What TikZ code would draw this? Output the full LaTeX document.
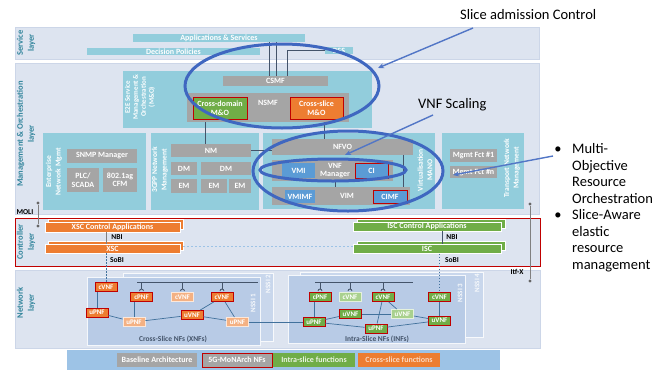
\documentclass[tikz,border=0pt]{standalone}
\usepackage{fontspec}
\setmainfont{Carlito}
\usetikzlibrary{arrows.meta}

\definecolor{laybg}{HTML}{DDE4F0}
\definecolor{laybd}{HTML}{CCD6E8}
\definecolor{tealbox}{HTML}{92CDDC}
\definecolor{tealtxt}{HTML}{31849B}
\definecolor{greybox}{HTML}{A5A5A5}
\definecolor{bluebox}{HTML}{5B9BD5}
\definecolor{orangebox}{HTML}{ED7D31}
\definecolor{lorange}{HTML}{F4B183}
\definecolor{greenbox}{HTML}{70AD47}
\definecolor{lgreen}{HTML}{A9D18E}
\definecolor{redline}{HTML}{C00000}
\definecolor{nssia}{HTML}{B8CBE6}
\definecolor{nssib}{HTML}{C9D7EC}
\definecolor{legendbg}{HTML}{9DC3E6}
\definecolor{ovalblue}{HTML}{3F67C0}
\definecolor{nftxt}{HTML}{44546A}
\definecolor{linkc}{HTML}{41719C}

\tikzset{
  sz/.style 2 args={minimum width=#1pt, minimum height=#2pt},
  laybox/.style={fill=laybg, draw=laybd, line width=0.8pt, inner sep=0pt},
  laytxt/.style={font=\fontsize{8.5}{11}\selectfont\bfseries, text=tealtxt, rotate=90, align=center, inner sep=0pt},
  lbl/.style={font=\fontsize{8}{8.5}\selectfont\bfseries, text=white, align=center, inner sep=0pt},
  tealb/.style={fill=tealbox, inner sep=0pt},
  rotlbl/.style={lbl, font=\fontsize{7.5}{9.5}\selectfont\bfseries, rotate=90},
  greyb/.style={lbl, fill=greybox},
  blueb/.style={lbl, fill=bluebox},
  monb/.style={draw=redline, line width=0.9pt},
  wire/.style={draw=nftxt, line width=0.6pt},
  gwire/.style={draw=gray, line width=0.6pt},
  jdot/.style={circle, fill=gray!80!black, inner sep=0pt, minimum size=3.2pt},
  iftxt/.style={font=\fontsize{7.5}{8}\selectfont\bfseries, text=black, inner sep=0pt},
  xscbar/.style={lbl, fill=orangebox, draw=white, line width=0.6pt},
  iscbar/.style={lbl, fill=greenbox, draw=white, line width=0.6pt},
  dotwire/.style={draw=linkc, line width=0.7pt, dash pattern=on 1.5pt off 1.5pt},
  dashwire/.style={draw=bluebox!60, line width=0.8pt, dash pattern=on 2pt off 2pt},
  nssiback/.style={fill=nssib, draw=white!85!nssib, line width=0.6pt, inner sep=0pt},
  nssifront/.style={fill=nssia, draw=white!85!nssia, line width=0.6pt, inner sep=0pt},
  nssitxt/.style={font=\fontsize{7}{7.5}\selectfont\bfseries, text=white!90!nssia, rotate=90, inner sep=0pt},
  nftitle/.style={font=\fontsize{7.5}{8}\selectfont\bfseries, text=nftxt, inner sep=0pt},
  nf/.style={font=\fontsize{7}{7.5}\selectfont\bfseries, text=white, sz={22}{9}, inner sep=0pt, line width=0.9pt},
  xnf/.style={nf, fill=orangebox, draw=redline},
  xnfl/.style={nf, fill=lorange, draw=white!70!lorange},
  inf/.style={nf, fill=greenbox, draw=redline},
  infl/.style={nf, fill=lgreen, draw=white!70!lgreen},
  link/.style={draw=linkc, line width=0.7pt},
  bus/.style={draw=nftxt, line width=0.8pt},
  oval/.style={draw=ovalblue, line width=3pt},
  notearrow/.style={draw=ovalblue!90!white, line width=1.4pt, -{Stealth[length=6pt, width=5pt]}},
  note/.style={font=\fontsize{14.5}{16.6}\selectfont, text=black, inner sep=0pt}
}

\begin{document}
\begin{tikzpicture}[x=1pt, y=-1pt]
\useasboundingbox (0,0) rectangle (665,373);

% layers
\node[laybox, sz={524}{32}] (srvl) at (277,43) {};
\node[laytxt] (srvlt) at (26,43) {Service\\layer};
\node[laybox, sz={524}{151}] (mol) at (277,138.5) {};
\node[laytxt] (molt) at (26,134) {Management \& Orchestration\\layer};
\node[laybox, draw=redline, line width=1pt, sz={525}{48}] (ctl) at (277.5,242) {};
\node[laytxt] (ctlt) at (26,242) {Controller\\layer};
\node[laybox, sz={525}{78}] (netl) at (277.5,309) {};
\node[laytxt] (netlt) at (26,303) {Network\\layer};

% service layer
\node[tealb, lbl, sz={172}{8}] (apps) at (219,38) {Applications \& Services};
\node[tealb, lbl, sz={173}{7}] (decpol) at (173.5,51.5) {Decision Policies};
\node[tealb, lbl, sz={28}{7}] (bss) at (339,50.5) {BSS};

% E2E M&O
\node[tealb, sz={249}{57}] (e2e) at (247.5,99.5) {};
\node[rotlbl, font=\fontsize{7}{8}\selectfont\bfseries] (e2et) at (140,97) {E2E Service\\Management \&\\Orchestration\\(M\&O)};
\node[greyb, sz={105}{10}] (csmf) at (275.5,81) {CSMF};
\node[greyb, sz={162}{29}] (nsmf) at (268,107.5) {};
\node[lbl] (nsmft) at (268,103) {NSMF};
\node[lbl, monb, fill=greenbox, sz={54}{22}] (xdom) at (220,108) {Cross-domain\\M\&O};
\node[lbl, monb, fill=orangebox, sz={53}{22}] (xslc) at (316.5,108) {Cross-slice\\M\&O};
\draw[wire] (apps.south -| 269,0) -- (csmf.north -| 269,0);
\draw[wire] (apps.south -| 276,0) -- (csmf.north -| 276,0);
\draw[wire] (csmf.north -| 287,0) |- (bss.west);

% enterprise
\node[tealb, sz={103}{77}] (ent) at (94.5,171.5) {};
\node[rotlbl] (entt) at (54,172) {Enterprise\\Network Mgmt};
\node[greyb, sz={70}{14}] (snmp) at (102,156) {SNMP Manager};
\node[greyb, sz={32}{24}] (plc) at (83,180) {PLC/\\SCADA};
\node[greyb, sz={34}{24}] (cfm) at (120,180) {802.1ag\\CFM};

% 3GPP
\node[tealb, sz={108}{77}] (tgpp) at (205,171.5) {};
\node[rotlbl] (tgppt) at (160,170) {3GPP Network\\Management};
\node[greyb, sz={80}{13}] (nm) at (211,150.5) {NM};
\node[greyb, sz={26}{13}] (dma) at (184,168.5) {DM};
\node[greyb, sz={50}{13}] (dmb) at (226,168.5) {DM};
\node[greyb, sz={26}{14}] (ema) at (184,186) {EM};
\node[greyb, sz={26}{14}] (emb) at (214,186) {EM};
\node[greyb, sz={22}{14}] (emc) at (240,186) {EM};

% MANO
\node[tealb, sz={172}{76}] (mano) at (349,171) {};
\node[rotlbl] (manot) at (425,170) {Virtualisation\\MANO};
\node[greyb, sz={141}{16}] (nfvo) at (342.5,147) {NFVO};
\node[greyb, sz={121}{21}] (vnfm) at (332.5,170.5) {};
\node[lbl] (vnfmt) at (335,170.5) {VNF\\Manager};
\node[blueb, sz={33}{15}] (vmi) at (298.5,170.5) {VMI};
\node[blueb, monb, sz={33}{15}] (ci) at (371.5,170.5) {CI};
\node[greyb, sz={138}{18}] (vim) at (341,196) {};
\node[lbl] (vimt) at (347,196) {VIM};
\node[blueb, sz={30}{13}] (vmimf) at (300,196.5) {VMIMF};
\node[blueb, monb, sz={34}{13}] (cimf) at (390,196.5) {CIMF};

% transport
\node[tealb, sz={82}{76}] (tnm) at (483,171) {};
\node[rotlbl] (tnmt) at (512,168) {Transport Network\\Management};
\node[greyb, sz={47}{13}] (mfa) at (473.5,155.5) {Mgmt Fct \#1};
\node[greyb, sz={47}{12}] (mfn) at (473.5,172) {Mgmt Fct \#n};

\draw[wire] (nsmf.south -| 205,0) -- (nm.north -| 205,0);
\draw[wire] (nsmf.south -| 324,0) -- (nfvo.north -| 324,0);
\draw[wire] (nm.east) -- (nfvo.west |- nm.east);
\draw[wire] (vnfm.south -| 335,0) -- (vim.north -| 335,0);
\draw[wire] (nfvo.south -| 403,0) -- (vim.north -| 403,0);

% MOLI and Itf-X
\node[jdot] (molia) at (38,203) {};
\node[jdot] (molib) at (38,226) {};
\draw[gwire] (molia) -- (molib);
\node[iftxt] (molit) at (25,212) {MOLI};
\node[jdot] (itfa) at (530,204) {};
\node[jdot] (itfb) at (530,281) {};
\draw[gwire] (itfa) -- (itfb);
\node[iftxt] (itft) at (517,272) {Itf-X};

% controller layer
\node[xscbar, sz={135}{10}] (xscappsb) at (115.5,224.5) {};
\node[xscbar, sz={135}{10}] (xscapps) at (112.5,227) {XSC Control Applications};
\node[xscbar, sz={135}{9}] (xscb) at (115.5,246) {};
\node[xscbar, sz={135}{9}] (xsc) at (112.5,248.5) {XSC};
\node[iftxt] (nbia) at (117,237.5) {NBI};
\node[iftxt] (sobia) at (117,260) {SoBI};
\draw[gwire] (xscapps.south -| 106,0) -- (xsc.north -| 106,0);

\node[iscbar, sz={148}{9}] (iscappsb) at (431,223.5) {};
\node[iscbar, sz={148}{9}] (iscapps) at (427,226.5) {ISC Control Applications};
\node[iscbar, sz={148}{9}] (iscb) at (431,246) {};
\node[iscbar, sz={148}{9}] (isc) at (427,249) {ISC};
\node[iftxt] (nbib) at (452,237.5) {NBI};
\node[iftxt] (sobib) at (452,260) {SoBI};
\draw[wire] (iscapps.south -| 442,0) -- (isc.north -| 442,0);
\draw[dashwire] (xscb.east) -- (isc.west |- xscb.east);

% network layer: NSSIs
\node[nssiback, sz={150}{68}] (nssib) at (198,307) {};
\node[nssifront, sz={173}{68}] (nssia) at (173.5,311) {};
\node[nssitxt] (nssibt) at (268,284) {NSSI 2};
\node[nssitxt] (nssiat) at (253,303) {NSSI 1};
\node[nftitle] (xnft) at (173,339) {Cross-Slice NFs (XNFs)};
\node[nssiback, sz={183}{65}] (nssid) at (391.5,304.5) {};
\node[nssifront, sz={177}{68}] (nssic) at (376.5,309) {};
\node[nssitxt] (nssidt) at (477,283) {NSSI 4};
\node[nssitxt] (nssict) at (460,293) {NSSI 3};
\node[nftitle] (inft) at (377,339) {Intra-Slice NFs (INFs)};

% cross-slice NFs
\node[xnf] (xca) at (106,287) {cVNF};
\node[xnf] (xcb) at (141.5,297) {cPNF};
\node[xnfl] (xcc) at (182.5,297) {cVNF};
\node[xnf] (xcd) at (222,297) {cVNF};
\node[xnf] (xua) at (97,312.5) {uPNF};
\node[xnfl] (xub) at (134,322) {uPNF};
\node[xnf] (xuc) at (192,315) {uVNF};
\node[xnfl] (xud) at (237.5,322) {uPNF};
\coordinate (xbusl) at (137,282);
\coordinate (xbusr) at (258,282);
\draw[bus] (xbusl) -- (xbusr);
\foreach \n in {xcb,xcc,xcd} {
  \draw[bus] (\n |- xbusl) -- ([yshift=3pt]\n.north);
  \draw[bus] ([xshift=-2pt,yshift=1pt]\n.north) arc[start angle=180, end angle=0, radius=2pt];
}
\draw[link] (xca.south -| xua) -- (xua.north);
\draw[link] (xua) -- (xub);
\draw[link] (xcb.south -| xub) -- (xub.north);
\draw[link] (xub) -- (xuc);
\draw[link] (xuc) -- (xud);
\draw[link] (xcd) -- (xuc);
\draw[link] (xcd) -- (xud);
\draw[dotwire] (xsc.south -| xca) -- (xca.north);

% intra-slice NFs
\node[inf] (ica) at (320,297) {cPNF};
\node[infl] (icb) at (350,297) {cVNF};
\node[inf] (icc) at (383,297) {cVNF};
\node[inf] (icd) at (439.5,297) {cVNF};
\node[inf] (iua) at (314,322) {uPNF};
\node[inf] (iub) at (350.5,314) {uVNF};
\node[infl] (iuc) at (402.5,314) {uVNF};
\node[inf] (iud) at (376,328.5) {uPNF};
\node[inf] (iue) at (439.5,320.5) {uVNF};
\coordinate (ibusl) at (315,282);
\coordinate (ibusr) at (413,282);
\draw[bus] (ibusl) -- (ibusr);
\foreach \n in {ica,icb,icc} {
  \draw[bus] (\n |- ibusl) -- ([yshift=3pt]\n.north);
  \draw[bus] ([xshift=-2pt,yshift=1pt]\n.north) arc[start angle=180, end angle=0, radius=2pt];
}
\draw[link] (ica.south -| iua) -- (iua.north);
\draw[link] (iua) -- (iub);
\draw[link] (iua) -- (iud);
\draw[link] (iub) -- (iuc);
\draw[link] (iuc) -- (iue);
\draw[link] (iud) -- (iue);
\draw[link] (icc) -- (iud);
\draw[link] (icc) -- (iuc);
\draw[link] (icd) -- (iue);
\draw[link] (xud) -- (iua);
\draw[dotwire] (isc.south -| icd) -- (icd.north);

% legend
\node[fill=legendbg, sz={433}{20}, inner sep=0pt] (leg) at (283.5,360) {};
\node[greyb, sz={80}{14}] (legbase) at (157,360) {Baseline Architecture};
\node[greyb, monb, sz={70}{14}] (legmon) at (237,360) {5G-MoNArch NFs};
\node[lbl, fill=greenbox, text=white!85!greenbox, sz={82}{14}] (legintra) at (314,360) {Intra-slice functions};
\node[lbl, fill=orangebox, text=white!70!orangebox, sz={82}{14}] (legcross) at (399,360) {Cross-slice functions};

% highlights
\draw[oval] (282,86) ellipse [x radius=97pt, y radius=42pt];
\draw[oval] (348,171) ellipse [x radius=95pt, y radius=40pt];
\draw[oval] (333,170) ellipse [x radius=73pt, y radius=11pt];

% notes
\node[note, anchor=base west] (sac) at (460,19) {Slice admission Control};
\coordinate (saca) at (473,28);
\coordinate (sacb) at (378,68);
\draw[notearrow] (saca) -- (sacb);
\node[note, anchor=base west] (vnfs) at (418,108) {VNF Scaling};
\coordinate (vnfa) at (433,115);
\coordinate (vnfb) at (345,155);
\draw[notearrow] (vnfa) -- (vnfb);
\node[note] (blta) at (558,150) {•};
\node[note, anchor=north west, align=left] (mro) at (572,143.5) {Multi-\\Objective\\Resource\\Orchestration};
\node[note] (bltb) at (558,216) {•};
\node[note, anchor=north west, align=left] (sae) at (572,209.5) {Slice-Aware\\elastic\\resource\\management};
\coordinate (mroa) at (553,156);
\coordinate (mrob) at (453,175);
\draw[notearrow] (mroa) -- (mrob);
\end{tikzpicture}
\end{document}
